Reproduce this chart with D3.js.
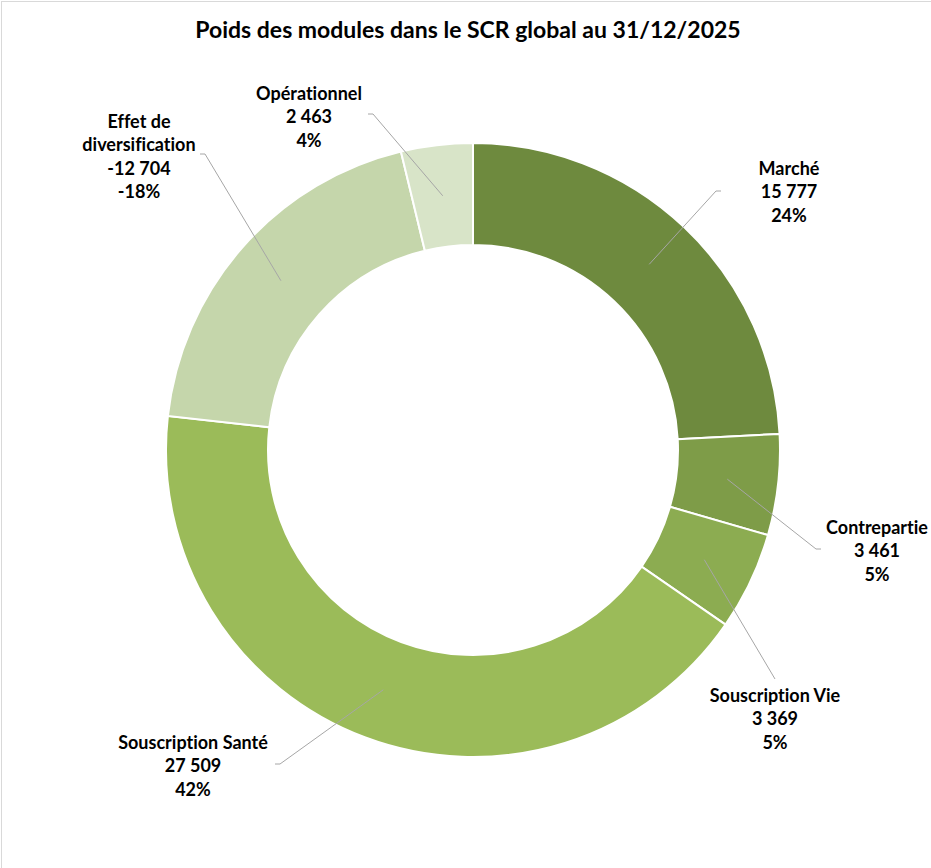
<!DOCTYPE html>
<html>
<head>
<meta charset="utf-8">
<script src="https://cdn.jsdelivr.net/npm/d3@7"></script>
<style>
  html, body { margin: 0; padding: 0; background: #fff; }
  svg { display: block; }
  text { font-family: Lato, "Open Sans", sans-serif; font-weight: 700; fill: #000; font-variant-ligatures: none; }
</style>
</head>
<body>
<svg id="chart" width="931" height="868"></svg>
<script>
// SCR modules (k€); diversification is a negative effect, drawn by its size
const modules = ["Marché", "Contrepartie", "Souscription Vie", "Souscription Santé", "Effet de diversification", "Opérationnel"];
const amounts = [15777, 3461, 3369, 27509, -12704, 2463];
const shareLabels = ["24%", "5%", "5%", "42%", "-18%", "4%"];
const nameLines = [["Marché"], ["Contrepartie"], ["Souscription Vie"], ["Souscription Santé"], ["Effet de", "diversification"], ["Opérationnel"]];

const sliceColors = ["#6E8A3E", "#7E9C48", "#8CAC51", "#9BBB59", "#C5D6AB", "#D8E4C8"];

// label block centres and leader-line elbows, per slice
const labelLayout = [
  { cx: 789, top: 168, elbow: [716, 191], end: [721, 191] },
  { cx: 877, top: 527, elbow: [816, 549], end: [821, 549] },
  { cx: 775, top: 695, elbow: [775, 679], end: [775, 679] },
  { cx: 193, top: 742, elbow: [280, 764], end: [275, 764] },
  { cx: 139, top: 121, elbow: [205, 154], end: [200, 154] },
  { cx: 309, top: 93,  elbow: [373, 114], end: [368, 114] }
];

// French grouping with a plain space and a plain hyphen for negatives
const fmt = v => (v < 0 ? "-" : "") + d3.format(",")(Math.abs(v)).replace(/,/g, " ");

const svg = d3.select("#chart");

// light chart-area frame
svg.append("rect")
  .attr("x", 1.5).attr("y", 1.5).attr("width", 960).attr("height", 900)
  .attr("fill", "none").attr("stroke", "#D9D9D9").attr("stroke-width", 1);

svg.append("text")
  .attr("x", 468).attr("y", 38)
  .attr("text-anchor", "middle")
  .style("font-size", "23px")
  .text("Poids des modules dans le SCR global au 31/12/2025");

const cx = 473, cy = 450, outerR = 307, innerR = 205;
const g = svg.append("g").attr("transform", `translate(${cx},${cy})`);

const data = modules.map((m, i) => ({ name: m, value: amounts[i], i }));
const pie = d3.pie().sort(null).value(d => Math.abs(d.value));
const arcs = pie(data);
const arc = d3.arc().innerRadius(innerR).outerRadius(outerR);

g.selectAll("path.slice")
  .data(arcs)
  .join("path")
  .attr("class", "slice")
  .attr("d", arc)
  .attr("fill", d => sliceColors[d.data.i])
  .attr("stroke", "#fff")
  .attr("stroke-width", 2);

// leader lines from slice centroids to the labels
const lines = svg.append("g");
arcs.forEach(a => {
  const L = labelLayout[a.data.i];
  const c = arc.centroid(a);
  const p0 = [cx + c[0], cy + c[1]];
  lines.append("polyline")
    .attr("points", [p0, L.elbow, L.end].map(p => p.join(",")).join(" "))
    .attr("fill", "none")
    .attr("stroke", "#A6A6A6")
    .attr("stroke-width", 1);
});

// labels: name, value, share
const lineH = 23.5;
arcs.forEach(a => {
  const i = a.data.i;
  const L = labelLayout[i];
  const rows = nameLines[i].concat([fmt(a.data.value), shareLabels[i]]);
  const t = svg.append("text")
    .attr("text-anchor", "middle")
    .style("font-size", "18px");
  rows.forEach((r, k) => {
    t.append("tspan")
      .attr("x", L.cx)
      .attr("y", L.top + 6.5 + k * lineH)
      .text(r);
  });
});
</script>
</body>
</html>
